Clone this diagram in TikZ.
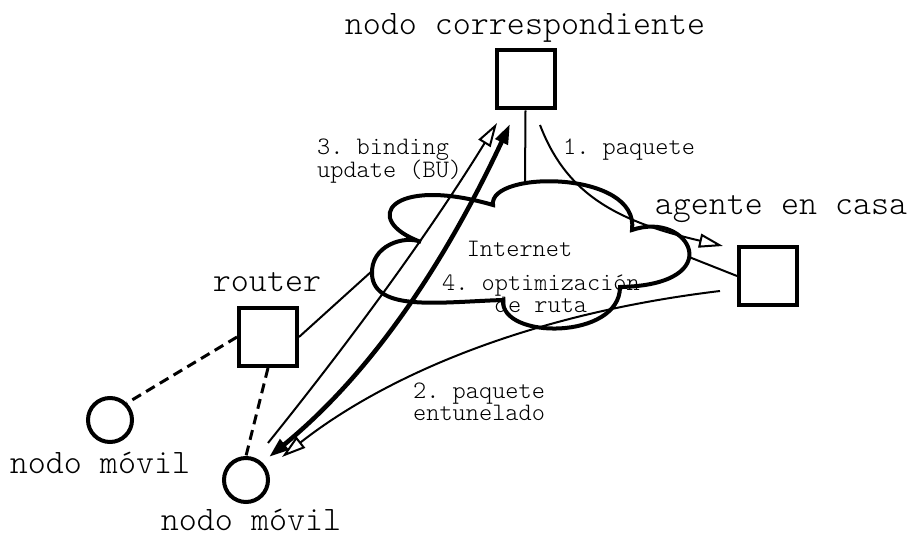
\documentclass[tikz,border=0pt]{standalone}
\usepackage{fontspec}
\setmonofont{Latin Modern Mono Light}
\usetikzlibrary{arrows.meta,calc}

\begin{document}
\begin{tikzpicture}[
  x=1pt, y=-1pt,
  big/.style={font=\ttfamily\fontsize{34.3}{38}\selectfont, inner sep=0pt,
    anchor=base, text height=22pt, text depth=0pt},
  small/.style={font=\ttfamily\fontsize{25.1}{28}\selectfont, inner sep=0pt,
    anchor=base, text height=16pt, text depth=0pt},
  box/.style={draw, line width=4pt, minimum size=58pt, inner sep=0pt},
  host/.style={draw, circle, line width=4pt, minimum size=44pt, inner sep=0pt},
  link/.style={line width=2pt},
  wlan/.style={line width=3pt, dash pattern=on 10pt off 6pt},
  cloudline/.style={line width=4pt, miter limit=4},
  openhead/.style={-{Triangle[fill=white, length=24pt, width=14pt]}},
  solidheads/.style={{Triangle[length=20pt, width=13pt]}-{Triangle[length=20pt, width=13pt]}},
]
\useasboundingbox (0,0) rectangle (910,534);

% hosts and routers
\node[box]  (corr)   at (525.5,79.5) {};
\node[box]  (ha)     at (768,276)    {};
\node[box]  (router) at (268,337)    {};
\node[host] (mn1)    at (110,420)    {};
\node[host] (mn2)    at (246,480)    {};

% names of the nodes
\node[big] (corr-l)   at (525,35)  {nodo correspondiente};
\node[big] (ha-l)     at (781,215) {agente en casa};
\node[big] (router-l) at (267,292) {router};
\node[big] (mn1-l)    at (100,473) {nodo móvil};
\node[big] (mn2-l)    at (251,530) {nodo móvil};

% the Internet cloud
\draw[cloudline] (493,205) .. controls (488,170) and (640,170) .. (632,230)
  .. controls (690,210) and (730,285) .. (620,287)
  .. controls (620,340) and (500,340) .. (503,300)
  .. controls (440,302) and (375,312) .. (372,275)
  .. controls (370,245) and (405,235) .. (421,242)
  .. controls (360,220) and (390,175) .. cycle;
\node[small] (inet) at (519.5,257) {Internet};

% points where the access links reach the cloud
\coordinate (c-top)   at (525,183);
\coordinate (c-right) at (689,257);
\coordinate (c-left)  at (372,271);

% wired links
\draw[link] (corr.south) -- (c-top);
\draw[link] (ha.west) -- (c-right);
\draw[link] (router.east) -- (c-left);

% wireless links
\draw[wlan] (router.west) -- (mn1.45);
\draw[wlan] (router.south) -- (mn2.north);

% message ends
\coordinate (p1a) at (540,125); \coordinate (p1b) at (723,246);
\coordinate (p2a) at (720,291); \coordinate (p2b) at (282,457);
\coordinate (p3a) at (268,443); \coordinate (p3b) at (497,123);
\coordinate (p4a) at (269,457); \coordinate (p4b) at (510,124);

% 1. packet to the home agent
\draw[link, openhead] (p1a) .. controls (565,190) and (610,220) .. (p1b);
\node[small, anchor=base west] (s1) at (563,155) {1. paquete};

% 2. tunnelled packet
\draw[link, openhead] (p2a) .. controls (520,315) and (380,380) .. (p2b);
\node[small, anchor=base west] (s2a) at (413,398) {2. paquete};
\node[small, anchor=base west] (s2b) at (413,420) {entunelado};

% 3. binding update
\draw[link, openhead] (p3a) .. controls (350,341) and (428,235) .. (p3b);
\node[small, anchor=base west] (s3a) at (317,155) {3. binding};
\node[small, anchor=base west] (s3b) at (317,178) {update (BU)};

% 4. route optimisation
\draw[line width=4.5pt, solidheads] (p4a) .. controls (379,367) and (451,250) .. (p4b);
\node[small] (s4a) at (541,291) {4. optimización};
\node[small] (s4b) at (541,313) {de ruta};
\end{tikzpicture}
\end{document}
